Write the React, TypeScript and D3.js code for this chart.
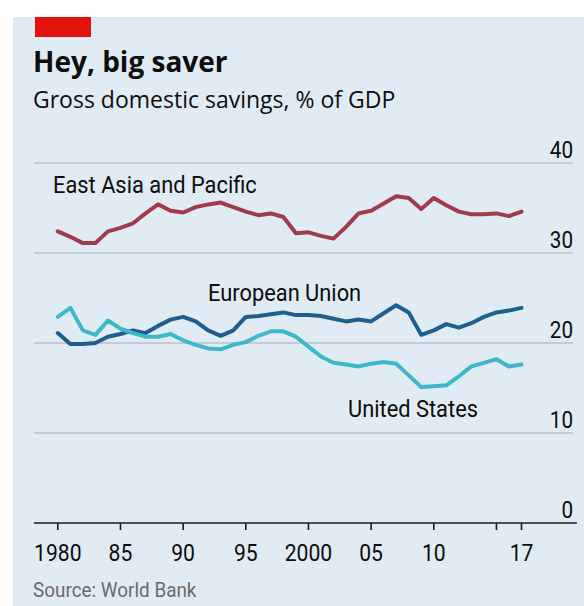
import React from "react";
import * as d3 from "d3";

const years = [
  1980, 1981, 1982, 1983, 1984, 1985, 1986, 1987, 1988, 1989,
  1990, 1991, 1992, 1993, 1994, 1995, 1996, 1997, 1998, 1999,
  2000, 2001, 2002, 2003, 2004, 2005, 2006, 2007, 2008, 2009,
  2010, 2011, 2012, 2013, 2014, 2015, 2016, 2017,
];

const eastAsia = [
  32.4, 31.8, 31.1, 31.1, 32.4, 32.8, 33.3, 34.4, 35.4, 34.7,
  34.5, 35.1, 35.4, 35.6, 35.1, 34.6, 34.2, 34.4, 34.0, 32.2,
  32.3, 31.9, 31.6, 32.9, 34.4, 34.7, 35.5, 36.3, 36.1, 34.9,
  36.1, 35.3, 34.6, 34.3, 34.3, 34.4, 34.1, 34.6,
];

const europeanUnion = [
  21.1, 19.9, 19.9, 20.0, 20.7, 21.0, 21.4, 21.1, 21.9, 22.6,
  22.9, 22.4, 21.4, 20.8, 21.4, 22.9, 23.0, 23.2, 23.4, 23.1,
  23.1, 23.0, 22.7, 22.4, 22.6, 22.4, 23.3, 24.2, 23.4, 20.9,
  21.4, 22.1, 21.7, 22.2, 22.9, 23.4, 23.6, 23.9,
];

const unitedStates = [
  22.9, 23.9, 21.4, 20.9, 22.5, 21.6, 21.1, 20.7, 20.7, 21.0,
  20.3, 19.8, 19.4, 19.3, 19.8, 20.1, 20.8, 21.3, 21.3, 20.7,
  19.6, 18.5, 17.8, 17.6, 17.4, 17.7, 17.9, 17.7, 16.4, 15.1,
  15.2, 15.3, 16.3, 17.4, 17.8, 18.2, 17.4, 17.6,
];

const yTicks = [0, 10, 20, 30, 40];
const xTicks = [1980, 1985, 1990, 1995, 2000, 2005, 2010, 2015, 2017];
const xTickLabels = ["1980", "85", "90", "95", "2000", "05", "10", "", "17"];

const seriesNames = ["East Asia and Pacific", "European Union", "United States"];
const seriesColors = ["#a23a4e", "#1d5f91", "#3db7ca"];

const chartFont = "Roboto, sans-serif";

function CText(props: {
  x: number;
  y: number;
  size: number;
  sx: number;
  anchor?: string;
  fill?: string;
  children: React.ReactNode;
}) {
  return (
    <text
      transform={`translate(${props.x},${props.y}) scale(${props.sx},1)`}
      textAnchor={props.anchor || "start"}
      fontFamily={chartFont}
      fontSize={props.size}
      fill={props.fill || "#0d0d0d"}
    >
      {props.children}
    </text>
  );
}

export default function App() {
  const W = 584;
  const H = 606;
  const x = d3.scaleLinear().domain([1980, 2017]).range([57.8, 521.5]);
  const y = d3.scaleLinear().domain([0, 40]).range([523, 163]);
  const line = d3
    .line<number>()
    .x((_, i) => x(years[i]))
    .y((d) => y(d))
    .curve(d3.curveLinear);

  const series = [eastAsia, europeanUnion, unitedStates];
  const labelPos = [
    { x: 53, y: 193 },
    { x: 208, y: 301 },
    { x: 348, y: 417 },
  ];

  return (
    <svg
      width={W}
      height={H}
      style={{ position: "absolute", left: 0, top: 0, background: "#ffffff" }}
    >
      <rect x={13} y={17} width={W - 13} height={H - 17} fill="#e1ebf3" />
      <rect x={35} y={17} width={56} height={20} fill="#e3120b" />
      <text
        x={33}
        y={72}
        fontFamily="'Open Sans', sans-serif"
        fontWeight={700}
        fontSize={28}
        fill="#0d0d0d"
      >
        Hey, big saver
      </text>
      <text
        x={33}
        y={108}
        fontFamily="'Open Sans', sans-serif"
        fontSize={23}
        fill="#0d0d0d"
      >
        Gross domestic savings, % of GDP
      </text>

      {yTicks.map((t) => (
        <g key={t}>
          {t !== 0 && (
            <line
              x1={34}
              x2={573}
              y1={y(t)}
              y2={y(t)}
              stroke="#b8c2ca"
              strokeWidth={1.6}
            />
          )}
          <CText x={573} y={y(t) - 5.5} size={23.5} sx={0.88} anchor="end">
            {t}
          </CText>
        </g>
      ))}

      {series.map((s, i) => (
        <path
          key={seriesNames[i]}
          d={line(s) || ""}
          fill="none"
          stroke={seriesColors[i]}
          strokeWidth={4}
          strokeLinejoin="round"
          strokeLinecap="round"
        />
      ))}

      <line x1={34} x2={577} y1={y(0)} y2={y(0)} stroke="#1a1a1a" strokeWidth={1.6} />
      {xTicks.map((t, i) => (
        <g key={t}>
          <line
            x1={x(t)}
            x2={x(t)}
            y1={y(0)}
            y2={y(0) + 7}
            stroke="#1a1a1a"
            strokeWidth={1.6}
          />
          <CText x={x(t)} y={561} size={24} sx={0.88} anchor="middle">
            {xTickLabels[i]}
          </CText>
        </g>
      ))}

      {seriesNames.map((n, i) => (
        <CText key={n} x={labelPos[i].x} y={labelPos[i].y} size={23} sx={0.95}>
          {n}
        </CText>
      ))}

      <CText x={33} y={597} size={21} sx={0.9} fill="#6b6b6b">
        Source: World Bank
      </CText>
    </svg>
  );
}
